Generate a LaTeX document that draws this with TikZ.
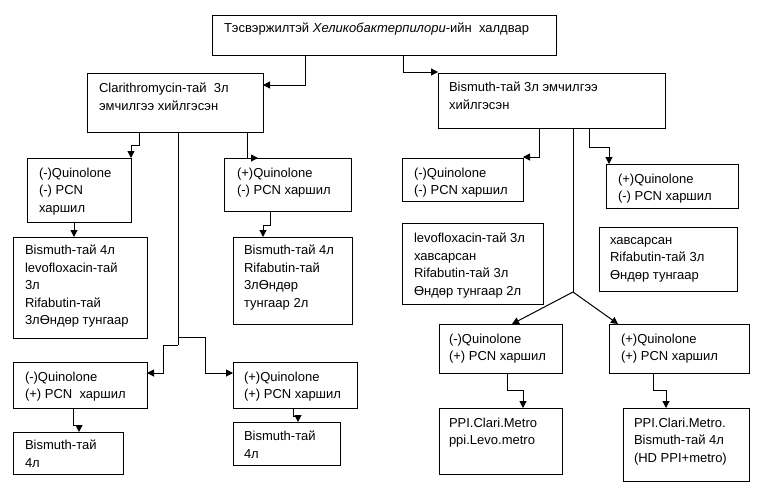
\documentclass[tikz,border=0pt]{standalone}
\usepackage{fontspec}
\setmainfont{Liberation Sans}
\usetikzlibrary{arrows.meta}
\tikzset{
  boxst/.style={draw, line width=1pt, anchor=north west, inner sep=0pt, outer sep=0pt},
  txt/.style={anchor=north west, inner sep=0pt, outer sep=0pt, align=left, font={\fontsize{13}{17.5}\selectfont}},
  ln/.style={line width=1pt},
  arr/.style={line width=1pt, -{Triangle[length=7pt,width=7pt]}}
}
\newcommand\mybox[8]{%
  \node[boxst, minimum width={(#4-#2)*1pt}, minimum height={(#5-#3)*1pt}] (#1) at (#2,#3) {};
  \node[txt] (#1-t) at (#6,#7) {#8};
}
\begin{document}
\begin{tikzpicture}[x=1pt,y=-1pt]
\useasboundingbox (0,0) rectangle (763,491);
\fill[white] (0,0) rectangle (763,491);

\mybox{top}{212}{15}{556}{55}{224}{23}{Тэсвэржилтэй \textit{Хеликобактерпилори}-ийн\ \ халдвар}
\mybox{clari}{87}{73}{263}{132}{99}{83}{Clarithromycin-тай\ \ 3л\\эмчилгээ хийлгэсэн}
\mybox{bis}{438}{73}{665}{128}{449}{82}{Bismuth-тай 3л эмчилгээ\\хийлгэсэн}
\mybox{lq1}{27}{158}{131}{222}{39}{168}{(-)Quinolone\\(-) PCN\\харшил}
\mybox{lq2}{224}{158}{351}{211}{237}{168}{(+)Quinolone\\(-) PCN харшил}
\mybox{lb1}{13}{237}{147}{338}{25}{245}{Bismuth-тай 4л\\levofloxacin-тай\\3л\\Rifabutin-тай\\3лӨндөр тунгаар}
\mybox{lb2}{233}{237}{352}{324}{244}{245}{Bismuth-тай 4л\\Rifabutin-тай\\3лӨндөр\\тунгаар 2л}
\mybox{lq3}{13}{362}{147}{408}{25}{372}{(-)Quinolone\\(+) PCN\ \ харшил}
\mybox{lq4}{233}{362}{357}{408}{244}{372}{(+)Quinolone\\(+) PCN харшил}
\mybox{lb3}{13}{432}{123}{474}{25}{440}{Bismuth-тай\\4л}
\mybox{lb4}{233}{422}{340}{465}{244}{431}{Bismuth-тай\\4л}
\mybox{rq1}{402}{158}{523}{201}{414}{168}{(-)Quinolone\\(-) PCN харшил}
\mybox{rq2}{606}{164}{738}{208}{618}{174}{(+)Quinolone\\(-) PCN харшил}
\mybox{rl1}{402}{223}{543}{304}{414}{233}{levofloxacin-тай 3л\\хавсарсан\\Rifabutin-тай 3л\\Өндөр тунгаар 2л}
\mybox{rl2}{599}{227}{737}{291}{610}{237}{хавсарсан\\Rifabutin-тай 3л\\Өндөр тунгаар}
\mybox{rq3}{439}{324}{562}{373}{449}{334}{(-)Quinolone\\(+) PCN харшил}
\mybox{rq4}{609}{324}{749}{373}{621}{334}{(+)Quinolone\\(+) PCN харшил}
\mybox{rb3}{439}{408}{562}{474}{449}{418}{PPI.Clari.Metro\\ppi.Levo.metro}
\mybox{rb4}{623}{408}{749}{481}{634}{418}{PPI.Clari.Metro.\\Bismuth-тай 4л\\(HD PPI+metro)}

% top -> clari / bis
\coordinate (k1) at (305,85);
\draw[arr] (top.south -| k1) |- (clari.east |- k1);
\coordinate (k2) at (403,72);
\draw[arr] (top.south -| k2) |- (bis.west |- k2);

% clari -> lq1, lq2
\coordinate (k3) at (139,145);
\coordinate (k3b) at (131,145);
\draw[arr] (clari.south -| k3) -- (k3) -- (k3b) -- (lq1.north -| k3b);
\coordinate (k4) at (247,158);
\coordinate (k4e) at (258,158);
\draw[arr] (clari.south -| k4) -- (k4) -- (k4e);

% lq1 -> lb1, lq2 -> lb2
\coordinate (k5) at (74,0);
\draw[arr] (lq1.south -| k5) -- (lb1.north -| k5);
\coordinate (k6a) at (270,225);
\coordinate (k6b) at (263,225);
\draw[arr] (lq2.south -| k6a) -- (k6a) -- (k6b) -- (lb2.north -| k6b);

% clari centre branch
\coordinate (k7) at (178,345);
\coordinate (k7r) at (178,337);
\draw[ln] (clari.south -| k7) -- (k7);
\coordinate (k8) at (163,345);
\coordinate (k8b) at (163,373);
\draw[arr] (k7) -- (k8) -- (k8b) -- (lq3.east |- k8b);
\coordinate (k9) at (205,337);
\coordinate (k9b) at (205,373);
\draw[arr] (k7r) -- (k9) -- (k9b) -- (lq4.west |- k9b);

% lq3 -> lb3, lq4 -> lb4
\coordinate (k10a) at (73,425);
\coordinate (k10b) at (79,425);
\draw[arr] (lq3.south -| k10a) -- (k10a) -- (k10b) -- (lb3.north -| k10b);
\coordinate (k11a) at (293,416);
\coordinate (k11b) at (298,416);
\draw[arr] (lq4.south -| k11a) -- (k11a) -- (k11b) -- (lb4.north -| k11b);

% bis -> rq1, rq2
\coordinate (k12) at (539,157);
\draw[arr] (bis.south -| k12) -- (k12) -- (rq1.east |- k12);
\coordinate (k13a) at (589,147);
\coordinate (k13b) at (609,147);
\draw[arr] (bis.south -| k13a) -- (k13a) -- (k13b) -- (rq2.north -| k13b);

% bis centre branch
\coordinate (k14) at (573,292);
\coordinate (k14l) at (512,0);
\coordinate (k14r) at (618,0);
\draw[ln] (bis.south -| k14) -- (k14);
\draw[arr] (k14) -- (rq3.north -| k14l);
\draw[arr] (k14) -- (rq4.north -| k14r);

% rq3 -> rb3, rq4 -> rb4
\coordinate (k15a) at (507,390);
\coordinate (k15b) at (523,390);
\draw[arr] (rq3.south -| k15a) -- (k15a) -- (k15b) -- (rb3.north -| k15b);
\coordinate (k16a) at (653,390);
\coordinate (k16b) at (666,390);
\draw[arr] (rq4.south -| k16a) -- (k16a) -- (k16b) -- (rb4.north -| k16b);
\end{tikzpicture}
\end{document}
